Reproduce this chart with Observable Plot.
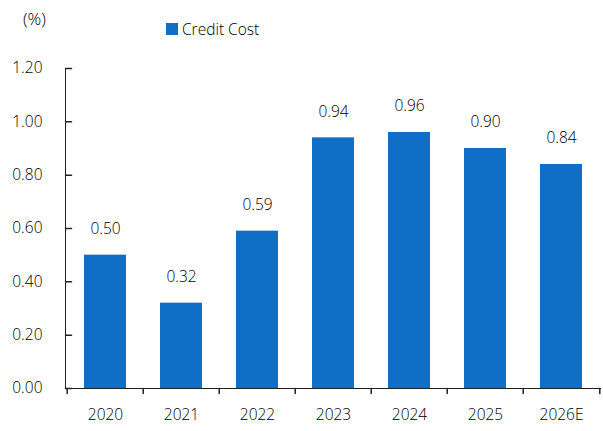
<!DOCTYPE html>
<html><head><meta charset="utf-8">
<script src="https://cdn.jsdelivr.net/npm/d3@7"></script>
<script src="https://cdn.jsdelivr.net/npm/@observablehq/plot@0.6"></script>
<style>
body{margin:0;background:#fff;font-family:"Open Sans",sans-serif;font-weight:350;color:#000;}
#wrap{position:relative;width:603px;height:431px;}
#unit{position:absolute;left:23px;top:9px;font-size:17px;line-height:20px;}
#legend{position:absolute;left:166px;top:19px;font-size:15.5px;line-height:20px;display:flex;align-items:center;}
#legend .sw{display:inline-block;width:12px;height:12px;background:#0F6FC6;margin-right:4px;}
#chart{position:absolute;left:0;top:0;}
#chart svg text{font-weight:350;}
</style></head>
<body><div id="wrap"><div id="chart"></div><div id="unit">(%)</div><div id="legend"><span class="sw"></span><span id="lname"></span></div></div>
<script>
const years = ["2020", "2021", "2022", "2023", "2024", "2025", "2026E"];
const creditCost = [0.50, 0.32, 0.59, 0.94, 0.96, 0.90, 0.84];
const yTicks = [0, 0.2, 0.4, 0.6, 0.8, 1.0, 1.2];
const seriesName = "Credit Cost";

document.getElementById("lname").textContent = seriesName;
const data = years.map((year, i) => ({year, value: creditCost[i]}));
const W = 603, H = 431, ML = 65, MR = 2, MT = 68, MB = 43;
const step = (W - ML - MR) / years.length;
const axisColor = "#222";
const line = {draw(context, l) { context.moveTo(0, 0); context.lineTo(0, -l); }};
const chart = Plot.plot({
  width: W, height: H, marginLeft: ML, marginRight: MR, marginTop: MT, marginBottom: MB,
  style: {fontFamily: '"Open Sans", sans-serif', fontSize: "15.5px", fontWeight: 350, color: "#000", background: "transparent", overflow: "visible"},
  x: {domain: years, paddingInner: 0.45, paddingOuter: 0.225, label: null},
  y: {domain: [0, 1.2], label: null},
  marks: [
    Plot.barY(data, {x: "year", y: "value", fill: "#0F6FC6"}),
    Plot.text(data, {x: "year", y: "value", text: d => d.value.toFixed(2), dy: -26, fontSize: 15.5, fill: "#000"}),
    Plot.axisY({ticks: yTicks, tickFormat: d => d.toFixed(2), tickSize: 0, tickPadding: 23}),
    Plot.vector(yTicks, {y: d => d, frameAnchor: "left", anchor: "start", rotate: 90, length: 6, shape: line, stroke: axisColor}),
    Plot.frame({anchor: "left", stroke: axisColor}),
    Plot.ruleY([0], {stroke: axisColor}),
    Plot.axisX({tickSize: 0, tickPadding: 20}),
    Plot.vector(years, {x: d => d, frameAnchor: "bottom", anchor: "start", rotate: 180, length: 5, shape: line, dx: -step / 2, stroke: axisColor}),
    Plot.vector([years[years.length - 1]], {x: d => d, frameAnchor: "bottom", anchor: "start", rotate: 180, length: 5, shape: line, dx: step / 2, stroke: axisColor})
  ]
});
document.getElementById("chart").appendChild(chart);
</script>
</body></html>
